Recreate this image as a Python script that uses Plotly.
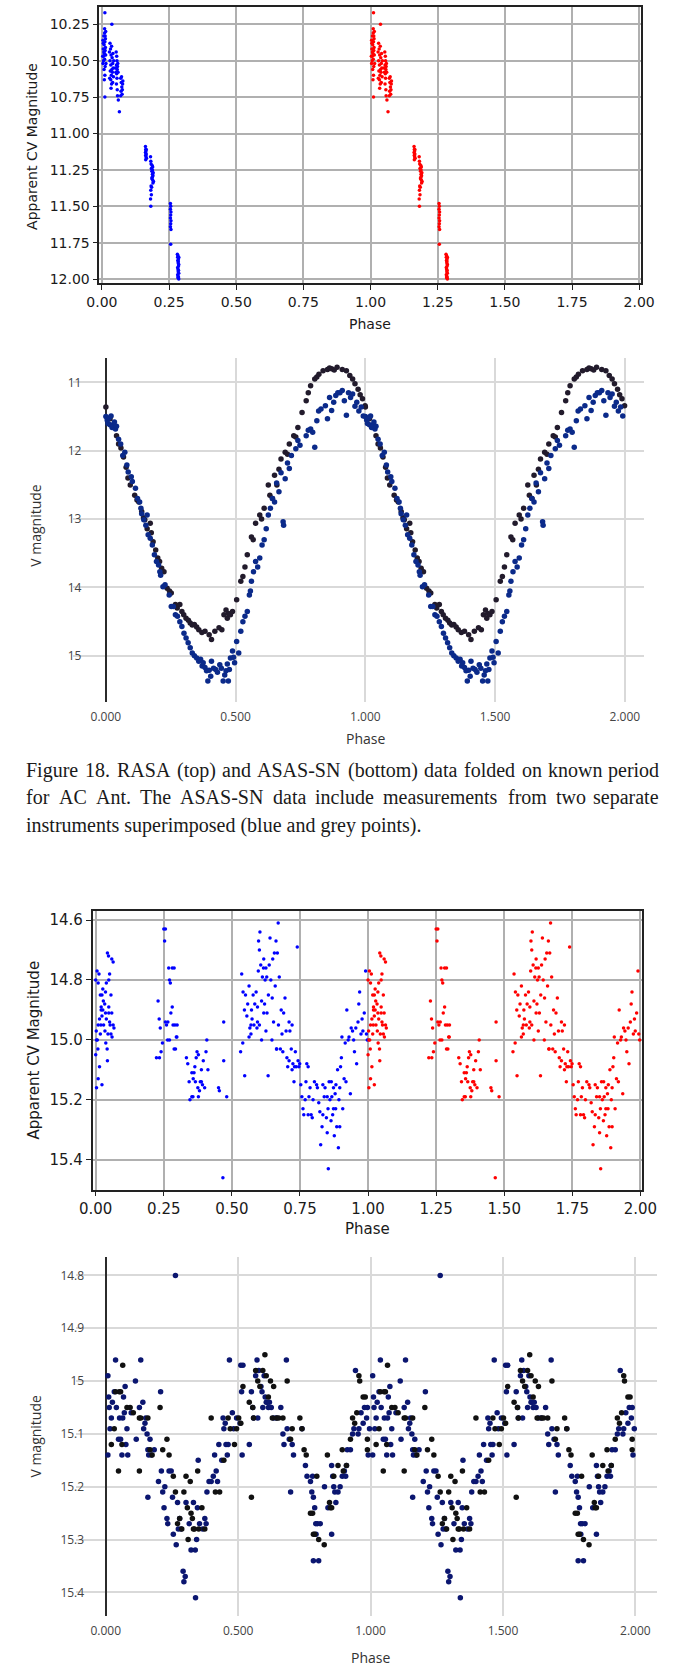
import plotly.graph_objects as go

W, H = 689, 1670

# ---------------- Data (phase, magnitude), one cycle each; drawn twice ----------------
# RASA, AC Ant (top panel)
rasa_ac_ant = [
    (0.004, 10.36), (0.005, 10.42), (0.006, 10.47), (0.004, 10.52), (0.007, 10.33), (0.008, 10.39),
    (0.009, 10.45), (0.006, 10.50), (0.010, 10.31), (0.011, 10.37), (0.012, 10.43), (0.010, 10.49),
    (0.013, 10.35), (0.014, 10.30), (0.012, 10.54), (0.008, 10.56), (0.011, 10.60), (0.009, 10.63),
    (0.014, 10.46), (0.005, 10.38), (0.007, 10.44), (0.013, 10.41), (0.015, 10.52), (0.003, 10.47),
    (0.010, 10.28), (0.012, 10.33), (0.011, 10.17), (0.011, 10.75),
    (0.030, 10.38), (0.032, 10.42), (0.034, 10.46), (0.030, 10.50), (0.036, 10.40), (0.033, 10.53),
    (0.031, 10.57), (0.035, 10.60), (0.033, 10.63), (0.036, 10.66), (0.034, 10.69), (0.038, 10.48),
    (0.040, 10.52), (0.042, 10.55), (0.039, 10.58), (0.041, 10.45), (0.043, 10.61), (0.037, 10.56),
    (0.044, 10.50), (0.040, 10.65), (0.037, 10.25), (0.028, 10.44), (0.029, 10.62),
    (0.053, 10.44), (0.055, 10.47), (0.056, 10.50), (0.054, 10.53), (0.057, 10.56), (0.055, 10.59),
    (0.058, 10.54), (0.052, 10.58), (0.056, 10.62), (0.054, 10.66), (0.057, 10.70), (0.058, 10.74),
    (0.059, 10.52), (0.050, 10.55), (0.060, 10.58), (0.065, 10.85), (0.061, 10.77),
    (0.070, 10.62), (0.072, 10.65), (0.074, 10.68), (0.071, 10.71), (0.075, 10.73), (0.077, 10.66),
    (0.073, 10.61), (0.076, 10.70), (0.078, 10.64), (0.070, 10.74),
    (0.162, 11.09), (0.163, 11.11), (0.164, 11.12), (0.162, 11.13), (0.165, 11.14), (0.163, 11.15),
    (0.164, 11.16), (0.166, 11.17), (0.165, 11.11), (0.163, 11.18),
    (0.181, 11.16), (0.182, 11.19), (0.183, 11.21), (0.184, 11.24), (0.186, 11.26), (0.188, 11.28),
    (0.187, 11.30), (0.189, 11.32), (0.190, 11.34), (0.188, 11.25), (0.191, 11.27), (0.190, 11.29),
    (0.186, 11.31), (0.189, 11.23), (0.192, 11.33), (0.183, 11.36), (0.182, 11.39), (0.184, 11.42),
    (0.181, 11.45), (0.182, 11.50), (0.185, 11.37), (0.187, 11.22),
    (0.255, 11.48), (0.256, 11.50), (0.255, 11.52), (0.257, 11.54), (0.256, 11.56), (0.255, 11.58),
    (0.257, 11.60), (0.256, 11.62), (0.255, 11.64), (0.257, 11.66), (0.256, 11.76),
    (0.281, 11.83), (0.282, 11.85), (0.283, 11.87), (0.284, 11.89), (0.285, 11.91), (0.283, 11.93),
    (0.284, 11.95), (0.282, 11.97), (0.285, 11.99), (0.286, 12.00), (0.283, 11.84), (0.285, 11.86),
    (0.284, 11.88), (0.286, 11.90), (0.282, 11.92), (0.285, 11.94), (0.286, 11.96), (0.284, 11.98),
    (0.283, 11.99), (0.286, 11.85),
]

# ASAS-SN, AC Ant: blue instrument
asassn_ac_ant_blue = [
    (0.000, 11.50), (0.005, 11.55), (0.008, 11.60), (0.012, 11.52), (0.016, 11.62), (0.020, 11.49),
    (0.024, 11.66), (0.029, 11.63), (0.033, 11.58), (0.037, 11.68), (0.041, 11.64),
    (0.049, 11.83), (0.057, 11.90), (0.065, 12.07), (0.073, 12.02), (0.081, 12.21), (0.086, 12.31),
    (0.098, 12.38), (0.102, 12.45), (0.114, 12.55), (0.122, 12.70), (0.130, 12.75), (0.135, 12.84),
    (0.138, 12.92), (0.146, 13.01), (0.154, 13.09), (0.159, 12.94), (0.163, 13.23), (0.171, 13.28),
    (0.179, 13.38), (0.187, 13.52), (0.195, 13.62), (0.203, 13.67), (0.208, 13.77), (0.211, 13.82),
    (0.220, 13.99), (0.228, 13.96), (0.244, 14.11), (0.252, 14.28), (0.260, 14.28), (0.268, 14.40),
    (0.276, 14.42), (0.285, 14.50), (0.293, 14.57), (0.301, 14.67), (0.309, 14.74), (0.317, 14.81),
    (0.325, 14.88), (0.333, 14.96), (0.341, 15.00), (0.350, 15.03), (0.358, 15.08), (0.365, 15.05),
    (0.371, 15.15), (0.375, 15.10), (0.382, 15.17), (0.388, 15.22), (0.393, 15.37), (0.398, 15.21),
    (0.404, 15.30), (0.407, 15.08), (0.415, 15.18), (0.423, 15.20), (0.430, 15.24), (0.439, 15.13),
    (0.445, 15.18), (0.452, 15.37), (0.458, 15.28), (0.463, 15.22), (0.468, 15.12), (0.472, 15.37),
    (0.476, 15.20), (0.480, 15.03), (0.488, 14.93), (0.492, 15.02), (0.496, 15.10), (0.504, 14.79),
    (0.512, 14.96), (0.520, 14.64), (0.528, 14.50), (0.536, 14.42), (0.545, 14.35), (0.553, 14.11),
    (0.557, 14.05), (0.561, 13.91), (0.569, 13.77), (0.577, 13.62), (0.585, 13.70), (0.593, 13.57),
    (0.602, 13.38), (0.610, 13.30), (0.618, 13.14), (0.626, 12.94), (0.634, 12.84), (0.642, 12.70),
    (0.650, 12.75), (0.658, 12.47), (0.667, 12.60), (0.675, 12.32), (0.683, 13.04), (0.685, 13.09),
    (0.691, 12.41), (0.700, 12.18), (0.707, 12.26), (0.715, 12.07), (0.732, 11.97), (0.740, 11.85),
    (0.748, 11.92), (0.772, 11.78), (0.780, 11.70), (0.789, 11.68), (0.797, 11.73), (0.805, 11.95),
    (0.813, 11.56), (0.820, 11.42), (0.829, 11.39), (0.846, 11.34), (0.854, 11.53), (0.862, 11.22),
    (0.870, 11.41), (0.878, 11.29), (0.886, 11.19), (0.894, 11.15), (0.902, 11.15), (0.911, 11.12),
    (0.919, 11.27), (0.927, 11.48), (0.935, 11.15), (0.943, 11.22), (0.951, 11.17), (0.960, 11.35),
    (0.967, 11.29), (0.975, 11.42), (0.984, 11.36), (0.992, 11.49),
]

# ASAS-SN, AC Ant: grey instrument
asassn_ac_ant_grey = [
    (0.000, 11.36), (0.016, 11.53), (0.030, 11.62), (0.041, 11.78), (0.049, 11.90), (0.058, 11.96),
    (0.068, 12.09), (0.078, 12.24), (0.085, 12.40), (0.094, 12.50), (0.111, 12.65), (0.120, 12.72),
    (0.127, 12.75), (0.138, 12.89), (0.145, 12.98), (0.150, 13.01), (0.159, 13.14), (0.171, 13.06),
    (0.175, 13.20), (0.182, 13.33), (0.192, 13.45), (0.200, 13.57), (0.207, 13.62), (0.215, 13.72),
    (0.224, 13.77), (0.236, 14.01), (0.245, 14.05), (0.252, 14.08), (0.268, 14.25), (0.275, 14.30),
    (0.285, 14.25), (0.293, 14.35), (0.300, 14.40), (0.309, 14.45), (0.318, 14.48), (0.325, 14.52),
    (0.333, 14.55), (0.341, 14.54), (0.350, 14.58), (0.358, 14.62), (0.370, 14.66), (0.382, 14.64),
    (0.398, 14.69), (0.407, 14.76), (0.420, 14.64), (0.436, 14.59), (0.447, 14.62), (0.455, 14.40),
    (0.463, 14.33), (0.468, 14.45), (0.472, 14.38), (0.480, 14.40), (0.488, 14.35), (0.504, 14.18),
    (0.520, 13.91), (0.528, 13.84), (0.536, 13.70), (0.545, 13.52), (0.561, 13.26), (0.568, 13.30),
    (0.577, 13.06), (0.593, 12.94), (0.600, 13.00), (0.610, 12.84), (0.626, 12.50), (0.632, 12.65),
    (0.642, 12.70), (0.650, 12.36), (0.659, 12.50), (0.667, 12.27), (0.675, 12.12), (0.691, 12.02),
    (0.700, 12.05), (0.707, 11.90), (0.724, 11.78), (0.732, 11.80), (0.740, 11.66), (0.756, 11.44),
    (0.772, 11.27), (0.780, 11.15), (0.789, 11.05), (0.805, 10.95), (0.813, 10.92), (0.821, 10.88),
    (0.837, 10.83), (0.854, 10.81), (0.862, 10.79), (0.870, 10.80), (0.880, 10.82), (0.891, 10.78),
    (0.911, 10.81), (0.927, 10.83), (0.940, 10.90), (0.951, 10.95), (0.960, 11.02), (0.972, 11.10),
    (0.980, 11.18), (0.989, 11.24), (0.999, 11.34),
]

# RASA, second star (lower panel)
rasa_second = [
    (0.002, 14.97), (0.000, 14.80), (0.005, 14.77), (0.009, 14.81), (0.012, 14.78), (0.017, 14.85),
    (0.020, 14.89), (0.023, 14.85), (0.028, 14.87), (0.033, 14.88), (0.036, 14.91), (0.039, 14.93),
    (0.043, 14.71), (0.048, 14.89), (0.051, 14.94), (0.056, 14.85), (0.059, 14.91), (0.064, 14.95),
    (0.067, 14.96), (0.000, 15.05), (0.003, 15.00), (0.006, 15.00), (0.009, 14.95), (0.014, 14.93),
    (0.017, 14.98), (0.020, 14.90), (0.023, 14.92), (0.026, 14.90), (0.029, 14.95), (0.034, 14.97),
    (0.037, 15.01), (0.042, 15.03), (0.045, 14.98), (0.048, 14.91), (0.053, 14.95), (0.056, 14.98),
    (0.060, 14.99), (0.064, 14.74), (0.059, 14.73), (0.047, 14.72), (0.003, 15.16), (0.009, 15.13),
    (0.023, 15.15), (0.043, 15.07), (0.039, 14.81), (0.048, 14.80), (0.051, 14.78), (0.036, 14.84),
    (0.026, 14.83), (0.019, 14.95), (0.008, 15.03), (0.014, 15.09),
    (0.229, 14.87), (0.233, 14.93), (0.237, 14.96), (0.240, 15.04), (0.245, 15.01), (0.250, 14.63),
    (0.253, 14.67), (0.256, 14.63), (0.268, 14.76), (0.271, 14.80), (0.274, 14.81), (0.281, 14.76),
    (0.288, 14.76), (0.265, 14.94), (0.260, 14.95), (0.281, 14.89), (0.276, 14.91), (0.284, 14.95),
    (0.291, 14.95), (0.296, 14.99), (0.293, 15.03), (0.264, 15.00), (0.271, 15.00), (0.223, 15.06),
    (0.234, 15.06), (0.298, 14.99), (0.288, 15.03), (0.256, 14.94), (0.299, 14.95),
    (0.333, 15.06), (0.338, 15.08), (0.343, 15.14), (0.346, 15.20), (0.353, 15.19), (0.357, 15.19),
    (0.361, 15.11), (0.364, 15.09), (0.369, 15.06), (0.372, 15.04), (0.377, 15.19), (0.381, 15.17),
    (0.384, 15.14), (0.388, 15.10), (0.392, 15.15), (0.400, 15.16), (0.405, 15.04), (0.408, 15.00),
    (0.412, 15.10), (0.366, 15.14), (0.358, 15.13), (0.375, 15.16), (0.388, 15.14), (0.395, 15.07),
    (0.451, 15.16), (0.454, 15.17), (0.353, 15.11), (0.377, 15.05),
    (0.470, 14.94), (0.470, 15.07), (0.467, 15.46), (0.481, 15.19),
    (0.532, 15.04), (0.536, 14.78), (0.541, 14.84), (0.546, 14.90), (0.547, 15.12), (0.550, 14.85),
    (0.555, 14.92), (0.558, 14.88), (0.563, 14.82), (0.566, 14.96), (0.570, 14.98), (0.574, 14.93),
    (0.578, 14.85), (0.581, 14.95), (0.584, 14.88), (0.589, 14.84), (0.592, 14.96), (0.594, 14.89),
    (0.597, 14.77), (0.598, 14.67), (0.601, 14.70), (0.603, 14.64), (0.606, 14.75), (0.609, 14.87),
    (0.612, 14.79), (0.616, 14.76), (0.617, 14.73), (0.620, 14.88), (0.622, 14.80), (0.625, 14.76),
    (0.628, 14.79), (0.629, 14.91), (0.633, 15.12), (0.634, 14.85), (0.637, 14.75), (0.640, 14.66),
    (0.643, 14.80), (0.647, 15.00), (0.650, 14.73), (0.653, 14.94), (0.656, 14.71), (0.659, 14.82),
    (0.662, 14.67), (0.664, 15.03), (0.667, 14.71), (0.670, 14.61), (0.671, 14.95), (0.674, 14.79),
    (0.678, 15.03), (0.681, 14.90), (0.684, 14.98), (0.687, 15.04), (0.690, 14.91), (0.695, 14.86),
    (0.699, 14.97), (0.702, 15.06), (0.705, 15.09), (0.710, 14.94), (0.713, 14.97), (0.718, 15.03),
    (0.721, 14.95), (0.724, 15.08), (0.728, 15.14), (0.730, 15.09), (0.733, 15.04), (0.736, 15.09),
    (0.740, 14.69), (0.743, 15.07), (0.746, 15.09), (0.749, 15.08), (0.540, 15.01), (0.563, 14.99),
    (0.572, 14.90), (0.609, 15.00), (0.625, 14.97), (0.648, 14.86), (0.664, 15.03), (0.710, 15.07),
    (0.721, 15.10), (0.570, 14.95), (0.594, 14.94), (0.617, 14.91), (0.601, 14.95),
    (0.753, 15.15), (0.757, 15.19), (0.761, 15.23), (0.764, 15.25), (0.769, 15.20), (0.775, 15.08),
    (0.780, 15.09), (0.783, 15.19), (0.791, 15.25), (0.795, 15.26), (0.798, 15.20), (0.803, 15.14),
    (0.811, 15.15), (0.814, 15.16), (0.819, 15.21), (0.823, 15.24), (0.826, 15.35), (0.831, 15.29),
    (0.834, 15.15), (0.839, 15.19), (0.842, 15.16), (0.847, 15.26), (0.850, 15.31), (0.853, 15.23),
    (0.854, 15.43), (0.857, 15.14), (0.860, 15.20), (0.864, 15.27), (0.867, 15.19), (0.870, 15.25),
    (0.873, 15.23), (0.876, 15.32), (0.879, 15.18), (0.882, 15.15), (0.885, 15.29), (0.888, 15.10),
    (0.891, 15.36), (0.893, 15.20), (0.896, 15.16), (0.899, 15.09), (0.902, 15.06), (0.904, 14.99),
    (0.907, 15.23), (0.912, 15.13), (0.916, 15.01), (0.919, 15.14), (0.922, 14.90), (0.927, 15.00),
    (0.930, 14.99), (0.935, 15.18), (0.938, 14.96), (0.943, 14.97), (0.947, 15.00), (0.950, 15.04),
    (0.955, 14.96), (0.958, 15.08), (0.963, 14.94), (0.966, 14.88), (0.969, 14.84), (0.974, 14.98),
    (0.978, 14.93), (0.981, 14.97), (0.986, 14.91), (0.991, 14.77), (0.994, 14.98), (0.997, 15.00),
    (0.772, 15.14), (0.780, 15.25), (0.787, 15.16), (0.873, 15.16), (0.881, 15.23), (0.865, 15.14),
    (0.896, 15.29), (0.850, 15.19), (0.834, 15.25),
]

# ASAS-SN, second star: blue instrument
asassn_second_blue = [
    (0.008, 14.99), (0.011, 15.03), (0.013, 15.05), (0.016, 15.09), (0.008, 15.14), (0.021, 15.07),
    (0.025, 15.04), (0.032, 15.02), (0.037, 14.96), (0.040, 15.05), (0.048, 15.11), (0.052, 15.07),
    (0.056, 15.11), (0.061, 15.14), (0.064, 15.07), (0.067, 15.03), (0.070, 15.06), (0.073, 15.01),
    (0.076, 15.12), (0.080, 15.09), (0.083, 15.14), (0.096, 15.06), (0.112, 15.00), (0.115, 15.11),
    (0.127, 15.05), (0.132, 14.96), (0.140, 15.04), (0.143, 15.09), (0.148, 15.08), (0.151, 15.07),
    (0.156, 15.10), (0.159, 15.13), (0.162, 15.14), (0.167, 15.11), (0.172, 15.14), (0.183, 15.13),
    (0.159, 15.22), (0.199, 15.19), (0.207, 15.02), (0.210, 15.17), (0.215, 15.21), (0.220, 15.24),
    (0.223, 15.20), (0.231, 15.26), (0.234, 15.27), (0.239, 15.17), (0.247, 15.17), (0.252, 15.22),
    (0.255, 15.29), (0.263, 14.80), (0.266, 15.31), (0.271, 15.23), (0.274, 15.28), (0.279, 15.26),
    (0.284, 15.28), (0.292, 15.36), (0.295, 15.38), (0.300, 15.37), (0.303, 15.23), (0.315, 15.27),
    (0.322, 15.32), (0.331, 15.23), (0.338, 15.32), (0.339, 15.41), (0.343, 15.30), (0.346, 15.24),
    (0.349, 15.15), (0.354, 15.27), (0.366, 15.28), (0.374, 15.26), (0.379, 15.27), (0.382, 15.21),
    (0.390, 15.19), (0.398, 15.19), (0.406, 15.18), (0.411, 15.14), (0.417, 15.17), (0.422, 15.19),
    (0.427, 15.12), (0.438, 15.15), (0.443, 15.07), (0.446, 15.09), (0.451, 15.08), (0.454, 15.12),
    (0.459, 15.14), (0.462, 15.12), (0.467, 14.96), (0.478, 15.06), (0.483, 15.09), (0.494, 15.07),
    (0.507, 15.08), (0.510, 14.97), (0.513, 15.02), (0.515, 15.14), (0.518, 14.97), (0.542, 15.12),
    (0.550, 15.02), (0.555, 15.05), (0.558, 15.07), (0.566, 14.99), (0.571, 14.96), (0.574, 15.07),
    (0.578, 14.98), (0.586, 15.01), (0.590, 15.02), (0.593, 15.05), (0.598, 14.99), (0.602, 15.03),
    (0.606, 15.04), (0.610, 15.04), (0.614, 15.05), (0.618, 15.04), (0.625, 15.05), (0.634, 15.07),
    (0.645, 15.07), (0.661, 15.05), (0.669, 15.10), (0.673, 15.12), (0.682, 14.96), (0.685, 15.09),
    (0.693, 15.11), (0.698, 15.21), (0.704, 15.12), (0.709, 15.14), (0.741, 15.09), (0.754, 15.16),
    (0.760, 15.18), (0.773, 15.19), (0.778, 15.21), (0.781, 15.18), (0.784, 15.22), (0.789, 15.24),
    (0.793, 15.27), (0.794, 15.29), (0.784, 15.34), (0.804, 15.34), (0.799, 15.27), (0.810, 15.27),
    (0.826, 15.20), (0.839, 15.24), (0.853, 15.16), (0.853, 15.29), (0.857, 15.18), (0.861, 15.20),
    (0.865, 15.21), (0.869, 15.23), (0.877, 15.21), (0.885, 15.20), (0.893, 15.18), (0.901, 15.17),
    (0.906, 15.18), (0.909, 15.16), (0.912, 15.13), (0.924, 15.13), (0.932, 15.10), (0.937, 15.09),
    (0.943, 14.98), (0.953, 15.10), (0.956, 15.09), (0.964, 15.06), (0.972, 15.08), (0.977, 15.05),
    (0.985, 15.07), (0.988, 15.05), (0.991, 15.14), (0.996, 15.09),
]

# ASAS-SN, second star: grey instrument
asassn_second_grey = [
    (0.021, 15.12), (0.032, 15.09), (0.037, 15.02), (0.048, 15.17), (0.051, 15.02), (0.056, 15.02),
    (0.061, 15.12), (0.064, 14.97), (0.080, 15.05), (0.092, 15.05), (0.104, 15.06), (0.127, 15.07),
    (0.127, 15.17), (0.132, 15.07), (0.159, 15.07), (0.167, 15.13), (0.175, 15.14), (0.205, 15.05),
    (0.215, 15.13), (0.231, 15.11), (0.239, 15.14), (0.255, 15.18), (0.263, 15.21), (0.271, 15.27),
    (0.279, 15.26), (0.287, 15.28), (0.295, 15.21), (0.303, 15.18), (0.308, 15.24), (0.311, 15.30),
    (0.319, 15.19), (0.322, 15.25), (0.327, 15.26), (0.331, 15.28), (0.335, 15.28), (0.347, 15.17),
    (0.351, 15.28), (0.363, 15.24), (0.374, 15.28), (0.398, 15.07), (0.414, 15.21), (0.430, 15.21),
    (0.446, 15.15), (0.462, 15.07), (0.470, 15.09), (0.486, 15.12), (0.494, 15.09), (0.502, 15.07),
    (0.510, 15.08), (0.518, 15.01), (0.542, 15.04), (0.550, 15.22), (0.555, 15.05), (0.558, 15.07),
    (0.566, 14.98), (0.574, 15.00), (0.582, 15.01), (0.593, 14.98), (0.601, 14.95), (0.606, 14.99),
    (0.614, 15.03), (0.622, 15.00), (0.629, 15.07), (0.634, 15.01), (0.645, 15.07), (0.653, 15.07),
    (0.669, 15.07), (0.685, 15.00), (0.698, 15.11), (0.704, 15.09), (0.733, 15.07), (0.741, 15.09),
    (0.749, 15.13), (0.757, 15.14), (0.773, 15.25), (0.781, 15.25), (0.784, 15.29), (0.789, 15.29),
    (0.797, 15.18), (0.804, 15.30), (0.825, 15.31), (0.837, 15.14), (0.845, 15.23), (0.848, 15.24),
    (0.853, 15.24), (0.861, 15.18), (0.877, 15.16), (0.893, 15.13), (0.897, 15.17), (0.909, 15.16),
    (0.924, 15.11), (0.932, 15.07), (0.940, 15.08), (0.948, 15.06), (0.956, 14.99), (0.959, 15.00),
    (0.972, 15.03), (0.980, 15.03), (0.988, 15.11), (0.988, 15.13),
]

# ---------------- Tick definitions ----------------
mpl_phase_ticks = [0.0, 0.25, 0.5, 0.75, 1.0, 1.25, 1.5, 1.75, 2.0]
mpl_phase_labels = ["0.00", "0.25", "0.50", "0.75", "1.00", "1.25", "1.50", "1.75", "2.00"]
web_phase_ticks = [0.0, 0.5, 1.0, 1.5, 2.0]
web_phase_labels = ["0.000", "0.500", "1.000", "1.500", "2.000"]
rasa_top_mag_ticks = [10.25, 10.5, 10.75, 11.0, 11.25, 11.5, 11.75, 12.0]
rasa_top_mag_labels = ["10.25", "10.50", "10.75", "11.00", "11.25", "11.50", "11.75", "12.00"]
asassn_top_mag_ticks = [11, 12, 13, 14, 15]
asassn_top_mag_labels = ["11", "12", "13", "14", "15"]
rasa_bottom_mag_ticks = [14.6, 14.8, 15.0, 15.2, 15.4]
rasa_bottom_mag_labels = ["14.6", "14.8", "15.0", "15.2", "15.4"]
asassn_bottom_mag_ticks = [14.8, 14.9, 15.0, 15.1, 15.2, 15.3, 15.4]
asassn_bottom_mag_labels = ["14.8", "14.9", "15", "15.1", "15.2", "15.3", "15.4"]

caption_lines = [
    "Figure 18. RASA (top) and ASAS-SN (bottom) data folded on known period",
    "for AC Ant. The ASAS-SN data include measurements from two separate",
    "instruments superimposed (blue and grey points).",
]


def cycle(points, shift=0.0):
    return [p + shift for p, _ in points], [m for _, m in points]


def both_cycles(points):
    x0, y0 = cycle(points)
    x1, y1 = cycle(points, 1.0)
    return x0 + x1, y0 + y1


def px_x(v):
    return v / W


def px_y(v):
    return 1 - v / H


fig = go.Figure()

# Panel 1: RASA AC Ant (first cycle blue, repeat red)
x, y = cycle(rasa_ac_ant)
fig.add_trace(go.Scatter(x=x, y=y, mode="markers", xaxis="x", yaxis="y",
                         marker=dict(color="#0000ff", size=3.5)))
x, y = cycle(rasa_ac_ant, 1.0)
fig.add_trace(go.Scatter(x=x, y=y, mode="markers", xaxis="x", yaxis="y",
                         marker=dict(color="#ff0000", size=3.5)))

# Panel 2: ASAS-SN AC Ant
x, y = both_cycles(asassn_ac_ant_grey)
fig.add_trace(go.Scatter(x=x, y=y, mode="markers", xaxis="x2", yaxis="y2",
                         marker=dict(color="#221b2c", size=5.5)))
x, y = both_cycles(asassn_ac_ant_blue)
fig.add_trace(go.Scatter(x=x, y=y, mode="markers", xaxis="x2", yaxis="y2",
                         marker=dict(color="#0b2a8a", size=5.5)))

# Panel 3: RASA second star
x, y = cycle(rasa_second)
fig.add_trace(go.Scatter(x=x, y=y, mode="markers", xaxis="x3", yaxis="y3",
                         marker=dict(color="#0000ff", size=3.5)))
x, y = cycle(rasa_second, 1.0)
fig.add_trace(go.Scatter(x=x, y=y, mode="markers", xaxis="x3", yaxis="y3",
                         marker=dict(color="#ff0000", size=3.5)))

# Panel 4: ASAS-SN second star
x, y = both_cycles(asassn_second_blue)
fig.add_trace(go.Scatter(x=x, y=y, mode="markers", xaxis="x4", yaxis="y4",
                         marker=dict(color="#0b1670", size=5.5)))
x, y = both_cycles(asassn_second_grey)
fig.add_trace(go.Scatter(x=x, y=y, mode="markers", xaxis="x4", yaxis="y4",
                         marker=dict(color="#111111", size=5.5)))

MPL_FONT = "DejaVu Sans"
WEB_FONT = "Open Sans"


def mpl_axis(domain, rng, anchor, ticks, labels, size):
    return dict(domain=domain, range=rng, anchor=anchor, tickmode="array",
                tickvals=ticks, ticktext=labels, ticks="outside", ticklen=5,
                tickwidth=1.2, tickcolor="#222222", showline=True, mirror=True,
                linecolor="#222222", linewidth=1.5, showgrid=True,
                gridcolor="#b0b0b0", gridwidth=1.5, zeroline=False,
                tickfont=dict(family=MPL_FONT, size=size, color="#1a1a1a"))


def web_axis(domain, rng, anchor, ticks, labels, zero, standoff):
    return dict(domain=domain, range=rng, anchor=anchor, tickmode="array",
                tickvals=ticks, ticktext=labels, ticks="", showline=False,
                showgrid=True, gridcolor="#d9d9d9", gridwidth=1.5,
                zeroline=zero, zerolinecolor="#2b2b2b", zerolinewidth=2,
                ticklabelstandoff=standoff,
                tickfont=dict(family=WEB_FONT, size=12, color="#444444"))


fig.update_layout(
    width=W, height=H, autosize=False,
    margin=dict(l=0, r=0, t=0, b=0),
    paper_bgcolor="white", plot_bgcolor="white", showlegend=False,
    xaxis=mpl_axis([px_x(90), px_x(655)], [-0.0096, 2.0082], "y",
                   mpl_phase_ticks, mpl_phase_labels, 14),
    yaxis=mpl_axis([px_y(284), px_y(7)], [12.029, 10.131], "x",
                   rasa_top_mag_ticks, rasa_top_mag_labels, 14),
    xaxis2=web_axis([px_x(63), px_x(657.5)], [-0.125, 2.073], "y2",
                    web_phase_ticks, web_phase_labels, True, 6),
    yaxis2=web_axis([px_y(704), px_y(359)], [15.68, 10.645], "x2",
                    asassn_top_mag_ticks, asassn_top_mag_labels, False, -9),
    xaxis3=mpl_axis([px_x(83), px_x(656)], [-0.0113, 2.007], "y3",
                    mpl_phase_ticks, mpl_phase_labels, 15),
    yaxis3=mpl_axis([px_y(1192.5), px_y(912.7)], [15.5, 14.568], "x3",
                    rasa_bottom_mag_ticks, rasa_bottom_mag_labels, 15),
    xaxis4=web_axis([px_x(65.8), px_x(670.8)], [-0.112, 2.08], "y4",
                    web_phase_ticks, web_phase_labels, True, 6),
    yaxis4=web_axis([px_y(1620), px_y(1260)], [15.445, 14.765], "x4",
                    asassn_bottom_mag_ticks, asassn_bottom_mag_labels, False, -9),
)

annotations = []


def label(text, x, y, family, size, color, angle=0):
    annotations.append(dict(text=text, x=px_x(x), y=px_y(y), xref="paper", yref="paper",
                            xanchor="center", yanchor="middle", showarrow=False,
                            textangle=angle, font=dict(family=family, size=size, color=color)))


label("Phase", 372.5, 325, MPL_FONT, 14, "#1a1a1a")
label("Apparent CV Magnitude", 19, 147, MPL_FONT, 14, "#1a1a1a", -90)
label("Phase", 367, 740, WEB_FONT, 14, "#333333")
label("V magnitude", 24, 527, WEB_FONT, 14, "#333333", -90)
label("Phase", 369.5, 1232, MPL_FONT, 15, "#1a1a1a")
label("Apparent CV Magnitude", 22, 1053, MPL_FONT, 15, "#1a1a1a", -90)
label("Phase", 372.5, 1661, WEB_FONT, 14, "#333333")
label("V magnitude", 24, 1440, WEB_FONT, 14, "#333333", -90)

# Caption set in a serif face; the first two lines are justified word by word
CAP_FONT = "Liberation Serif"
CAP_SIZE = 20
CAP_LEFT, CAP_RIGHT = 13, 674
CAP_Y = [772, 799, 827]
TIMES = {'F': .556, 'i': .278, 'g': .5, 'u': .5, 'r': .333, 'e': .444, '1': .5, '8': .5,
         '.': .25, 'R': .667, 'A': .722, 'S': .556, '(': .333, ')': .333, 't': .278,
         'o': .5, 'p': .5, 'a': .444, 'n': .5, 'd': .5, '-': .333, 'N': .722, 'b': .5,
         'm': .778, 'l': .278, 'f': .333, 'k': .5, 'w': .722, 'C': .667, 'T': .611,
         'h': .5, 'c': .444, 's': .389, 'y': .5, 'v': .5}
RENDER_SCALE = 1.05


def word_width(w):
    return sum(TIMES.get(c, .5) for c in w) * CAP_SIZE * RENDER_SCALE


cap_font = dict(family=CAP_FONT, size=CAP_SIZE, color="#1a1a1a")
for i, line in enumerate(caption_lines):
    if i == len(caption_lines) - 1:
        annotations.append(dict(text=line, x=px_x(CAP_LEFT), y=px_y(CAP_Y[i]), xref="paper",
                                yref="paper", xanchor="left", yanchor="middle",
                                showarrow=False, borderpad=0, font=cap_font))
        continue
    words = line.split(" ")
    widths = [word_width(w) for w in words]
    gap = (CAP_RIGHT - CAP_LEFT - sum(widths)) / (len(words) - 1)
    xpos = CAP_LEFT
    for j, (w, wd) in enumerate(zip(words, widths)):
        last = j == len(words) - 1
        annotations.append(dict(text=w, x=px_x(CAP_RIGHT if last else xpos), y=px_y(CAP_Y[i]),
                                xref="paper", yref="paper",
                                xanchor="right" if last else "left", yanchor="middle",
                                showarrow=False, borderpad=0, font=cap_font))
        xpos += wd + gap

fig.update_layout(annotations=annotations)

fig.write_html("out.html")
